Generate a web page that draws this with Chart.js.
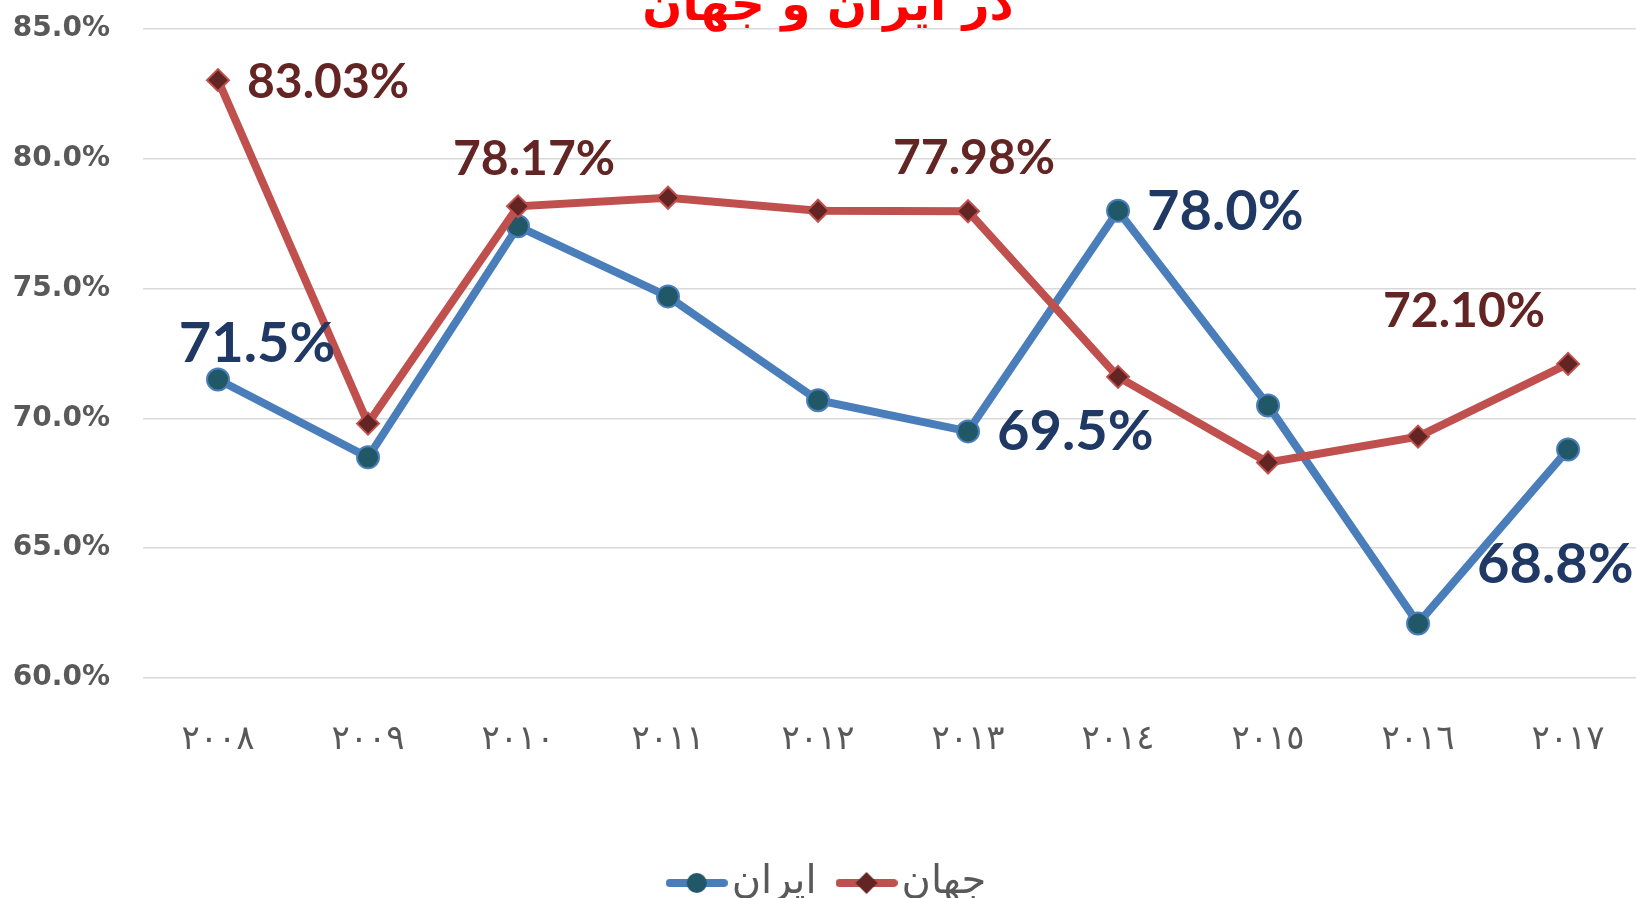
<!DOCTYPE html>
<html>
<head>
<meta charset="utf-8">
<script src="https://cdn.jsdelivr.net/npm/chart.js@4.4.0/dist/chart.umd.min.js"></script>
<style>
  html, body { margin: 0; padding: 0; background: #fff; }
</style>
</head>
<body>
<canvas id="grafico" width="1636" height="898"></canvas>
<script>
// anni (cifre arabo-indiche come nell'originale)
var anni = ['٢٠٠٨', '٢٠٠٩', '٢٠١٠', '٢٠١١', '٢٠١٢', '٢٠١٣', '٢٠١٤', '٢٠١٥', '٢٠١٦', '٢٠١٧'];
// serie Iran (blu) e mondo (rosso), in percentuale
var valori_iran = [71.5, 68.5, 77.4, 74.7, 70.7, 69.5, 78.0, 70.5, 62.1, 68.8];
var valori_mondo = [83.03, 69.8, 78.17, 78.5, 78.0, 77.98, 71.6, 68.3, 69.3, 72.10];
// etichette sui punti (null = nessuna etichetta)
var etichette_iran = ['71.5%', null, null, null, null, '69.5%', '78.0%', null, null, '68.8%'];
var etichette_mondo = ['83.03%', null, '78.17%', null, null, '77.98%', null, null, null, '72.10%'];
var nomi_serie = ['ایران', 'جهان'];
var titolo = 'در ایران و جهان';
var tick_y = [60, 65, 70, 75, 80, 85];

var BLU = '#4A7EBB', BLU_PUNTO = '#215868', BLU_TESTO = '#1F3864';
var ROSSO = '#C0504D', ROSSO_PUNTO = '#632523', ROSSO_TESTO = '#632523';
var GRIGIO = '#595959';

// simbolo della legenda: linea con marcatore al centro
function simboloLegenda(colore_linea, colore_punto, stile) {
  var c = document.createElement('canvas');
  c.width = 62;
  c.height = 26;
  var ctx = c.getContext('2d');
  ctx.strokeStyle = colore_linea;
  ctx.lineWidth = 8;
  ctx.lineCap = 'round';
  ctx.beginPath();
  ctx.moveTo(4, 13);
  ctx.lineTo(58, 13);
  ctx.stroke();
  ctx.fillStyle = colore_punto;
  ctx.beginPath();
  if (stile == 'circle') {
    ctx.arc(31, 13, 10, 0, 2 * Math.PI);
  } else {
    ctx.moveTo(31, 2);
    ctx.lineTo(42, 13);
    ctx.lineTo(31, 24);
    ctx.lineTo(20, 13);
    ctx.closePath();
  }
  ctx.fill();
  return c;
}

function punti(valori) {
  var out = [];
  for (var i = 0; i < valori.length; i++) {
    out.push({x: i, y: valori[i]});
  }
  return out;
}

// posizione delle etichette rispetto al punto
var posizioni = {
  0: {0: {dx: 39, dy: -36, align: 'center'}, 5: {dx: 29, dy: 1, align: 'left'}, 6: {dx: 29, dy: 1, align: 'left'}, 9: {dx: -91, dy: 115, align: 'left'}},
  1: {0: {dx: 29, dy: 2, align: 'left'}, 2: {dx: 16, dy: -47, align: 'center'}, 5: {dx: 6, dy: -53, align: 'center'}, 9: {dx: -104, dy: -52, align: 'center'}}
};

var pluginEtichette = {
  id: 'etichette',
  afterDatasetsDraw: function(chart) {
    var ctx = chart.ctx;
    var gruppi = [
      {testi: etichette_iran, colore: BLU_TESTO, font: 'bold 56px Lato'},
      {testi: etichette_mondo, colore: ROSSO_TESTO, font: 'bold 48px Lato'}
    ];
    ctx.save();
    for (var d = 0; d < gruppi.length; d++) {
      var meta = chart.getDatasetMeta(d);
      for (var i = 0; i < gruppi[d].testi.length; i++) {
        var t = gruppi[d].testi[i];
        if (!t) continue;
        var p = meta.data[i];
        var pos = posizioni[d][i];
        ctx.font = gruppi[d].font;
        ctx.fillStyle = gruppi[d].colore;
        ctx.textAlign = pos.align;
        ctx.textBaseline = 'middle';
        ctx.fillText(t, p.x + pos.dx, p.y + pos.dy);
      }
    }
    ctx.restore();
  }
};

// titolo tagliato in alto come nell'immagine
var pluginTitolo = {
  id: 'titolo',
  afterDraw: function(chart) {
    var ctx = chart.ctx;
    ctx.save();
    ctx.font = 'bold 47px "DejaVu Sans"';
    ctx.fillStyle = '#FF0000';
    ctx.textAlign = 'center';
    ctx.textBaseline = 'alphabetic';
    ctx.fillText(titolo, 828, 20);
    ctx.restore();
  }
};

// sposta la legenda un po' piu' in basso e a destra
var pluginLegenda = {
  id: 'spostaLegenda',
  afterLayout: function(chart) {
    chart.legend.top += 15;
    chart.legend.bottom += 15;
    chart.legend.left += 16;
    chart.legend.right += 16;
  }
};

var grafico = new Chart(document.getElementById('grafico'), {
  type: 'line',
  data: {
    datasets: [{
      label: nomi_serie[0],
      data: punti(valori_iran),
      borderColor: BLU,
      borderWidth: 8,
      pointStyle: 'circle',
      pointRadius: 11,
      pointBackgroundColor: BLU_PUNTO,
      pointBorderColor: BLU,
      pointBorderWidth: 2,
      order: 1
    }, {
      label: nomi_serie[1],
      data: punti(valori_mondo),
      borderColor: ROSSO,
      borderWidth: 8,
      pointStyle: 'rectRot',
      pointRadius: 11,
      pointBackgroundColor: ROSSO_PUNTO,
      pointBorderColor: ROSSO,
      pointBorderWidth: 2,
      order: 0
    }]
  },
  options: {
    responsive: false,
    animation: false,
    layout: {autoPadding: false, padding: {top: 29, left: 0, right: 0, bottom: 0}},
    scales: {
      x: {
        type: 'linear',
        min: -0.5,
        max: 9.453,
        grid: {display: false},
        border: {display: false},
        afterBuildTicks: function(scale) {
          scale.ticks = anni.map(function(a, i) { return {value: i}; });
        },
        afterFit: function(scale) {
          scale.height = 135;
          scale.paddingLeft = 0;
          scale.paddingRight = 0;
        },
        ticks: {
          padding: 34,
          color: GRIGIO,
          font: {family: 'DejaVu Sans', size: 34},
          maxRotation: 0,
          callback: function(value) { return anni[value]; }
        }
      },
      y: {
        min: 60,
        max: 85,
        afterBuildTicks: function(scale) {
          scale.ticks = tick_y.map(function(v) { return {value: v}; });
        },
        afterFit: function(scale) {
          scale.width = 143;
          scale.paddingTop = 0;
          scale.paddingBottom = 0;
        },
        grid: {color: '#D9D9D9', lineWidth: 1.5, drawTicks: false},
        border: {display: false},
        ticks: {
          padding: 33,
          color: GRIGIO,
          font: {family: 'DejaVu Sans', size: 28, weight: 'bold'},
          callback: function(value) { return value.toFixed(1) + '%'; }
        }
      }
    },
    plugins: {
      tooltip: {enabled: false},
      legend: {
        position: 'bottom',
        labels: {
          usePointStyle: true,
          pointStyleWidth: 30,
          padding: 35,
          color: GRIGIO,
          font: {family: 'DejaVu Sans', size: 40},
          generateLabels: function(chart) {
            return [
              {text: nomi_serie[0], pointStyle: simboloLegenda(BLU, BLU_PUNTO, 'circle'), fillStyle: BLU, strokeStyle: BLU, lineWidth: 0, fontColor: GRIGIO, datasetIndex: 0, hidden: false},
              {text: nomi_serie[1], pointStyle: simboloLegenda(ROSSO, ROSSO_PUNTO, 'diamond'), fillStyle: ROSSO, strokeStyle: ROSSO, lineWidth: 0, fontColor: GRIGIO, datasetIndex: 1, hidden: false}
            ];
          }
        }
      }
    }
  },
  plugins: [pluginEtichette, pluginTitolo, pluginLegenda]
});
</script>
</body>
</html>
